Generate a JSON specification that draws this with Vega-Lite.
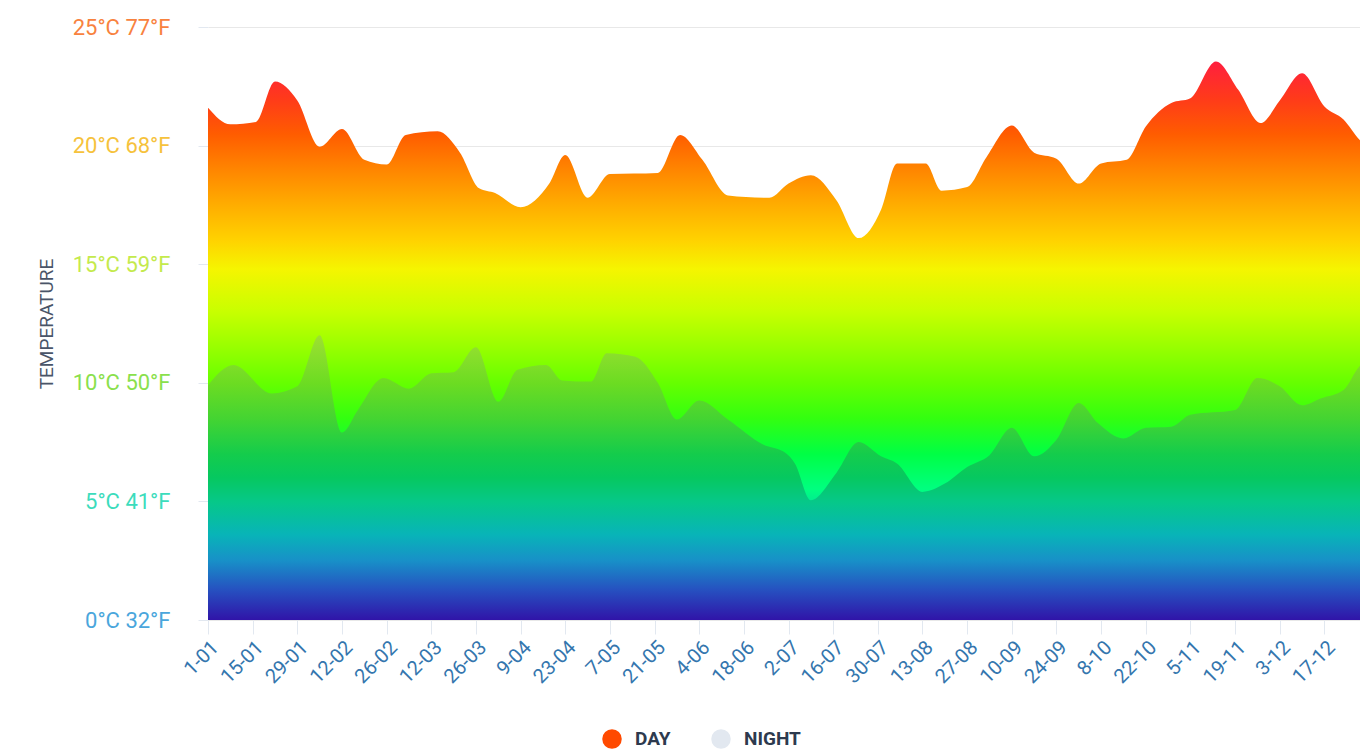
{
  "$schema": "https://vega.github.io/schema/vega-lite/v6.json",
  "width": 1152,
  "height": 593,
  "autosize": {"type": "none"},
  "padding": {"left": 208, "top": 27, "right": 0, "bottom": 131},
  "background": "white",
  "config": {"view": {"stroke": null}, "font": "Roboto"},
  "datasets": {
    "day": [
      {"day":0,"temp":21.6},{"day":7,"temp":20.9},{"day":15,"temp":21.0},{"day":21,"temp":22.7},{"day":28,"temp":21.9},
      {"day":35,"temp":19.95},{"day":42,"temp":20.7},{"day":49,"temp":19.4},{"day":56,"temp":19.2},{"day":62,"temp":20.45},
      {"day":72,"temp":20.6},{"day":79,"temp":19.7},{"day":85,"temp":18.2},{"day":90,"temp":18.0},{"day":98,"temp":17.4},
      {"day":107,"temp":18.4},{"day":112,"temp":19.6},{"day":119,"temp":17.8},{"day":126,"temp":18.8},{"day":141,"temp":18.85},
      {"day":148,"temp":20.45},{"day":155,"temp":19.4},{"day":163,"temp":17.9},{"day":176,"temp":17.8},{"day":182,"temp":18.4},
      {"day":189,"temp":18.75},{"day":197,"temp":17.7},{"day":204,"temp":16.1},{"day":211,"temp":17.3},{"day":216,"temp":19.25},
      {"day":225,"temp":19.25},{"day":230,"temp":18.1},{"day":238,"temp":18.25},{"day":244,"temp":19.5},{"day":252,"temp":20.85},
      {"day":259,"temp":19.7},{"day":266,"temp":19.45},{"day":273,"temp":18.4},{"day":280,"temp":19.25},{"day":288,"temp":19.4},
      {"day":294,"temp":20.8},{"day":302,"temp":21.8},{"day":308,"temp":22.0},{"day":316,"temp":23.55},{"day":323,"temp":22.35},
      {"day":330,"temp":20.95},{"day":336,"temp":21.9},{"day":343,"temp":23.05},{"day":350,"temp":21.65},{"day":356,"temp":21.1},
      {"day":361,"temp":20.25},{"day":364,"temp":19.9}
    ],
    "night": [
      {"day":0,"temp":9.9},{"day":8,"temp":10.75},{"day":20,"temp":9.55},{"day":28,"temp":9.85},{"day":35,"temp":12.0},
      {"day":42,"temp":7.9},{"day":47,"temp":8.85},{"day":55,"temp":10.2},{"day":63,"temp":9.75},{"day":70,"temp":10.4},
      {"day":77,"temp":10.45},{"day":84,"temp":11.5},{"day":91,"temp":9.2},{"day":97,"temp":10.55},{"day":106,"temp":10.75},
      {"day":111,"temp":10.1},{"day":120,"temp":10.05},{"day":125,"temp":11.25},{"day":134,"temp":11.1},{"day":141,"temp":10.0},
      {"day":147,"temp":8.45},{"day":154,"temp":9.25},{"day":163,"temp":8.45},{"day":174,"temp":7.4},{"day":181,"temp":7.05},
      {"day":184,"temp":6.6},{"day":189,"temp":5.05},{"day":197,"temp":6.2},{"day":204,"temp":7.5},{"day":211,"temp":6.9},
      {"day":216,"temp":6.6},{"day":224,"temp":5.4},{"day":231,"temp":5.75},{"day":238,"temp":6.45},{"day":245,"temp":6.95},
      {"day":252,"temp":8.1},{"day":259,"temp":6.9},{"day":266,"temp":7.6},{"day":273,"temp":9.15},{"day":279,"temp":8.3},
      {"day":287,"temp":7.65},{"day":294,"temp":8.1},{"day":302,"temp":8.15},{"day":308,"temp":8.65},{"day":322,"temp":8.85},
      {"day":329,"temp":10.2},{"day":336,"temp":9.85},{"day":343,"temp":9.05},{"day":349,"temp":9.35},{"day":356,"temp":9.7},
      {"day":361,"temp":10.7},{"day":364,"temp":11.0}
    ],
    "legend": [
      {"series":"DAY","day":0,"temp":0},
      {"series":"NIGHT","day":0,"temp":0}
    ]
  },
  "encoding": {
    "x": {
      "field": "day",
      "type": "quantitative",
      "scale": {"domain": [0, 361.16], "nice": false, "zero": false},
      "axis": {
        "values": [0,14,28,42,56,70,84,98,112,126,140,154,168,182,196,210,224,238,252,266,280,294,308,322,336,350,364],
        "labelExpr": "timeFormat(datetime(2019, 0, 1 + datum.value), '%-d-%m')",
        "labelAngle": -45,
        "labelFontSize": 20,
        "labelColor": "#3476ae",
        "labelPadding": 3,
        "labelOverlap": false,
        "labelBound": false,
        "labelFlush": false,
        "tickSize": 14,
        "tickColor": "#e2e8f0",
        "tickWidth": 1,
        "domain": false,
        "grid": false,
        "title": null
      }
    },
    "y": {
      "field": "temp",
      "type": "quantitative",
      "scale": {"domain": [0, 25], "nice": false},
      "axis": {
        "values": [0,5,10,15,20,25],
        "labelExpr": "datum.value + '°C ' + round(datum.value * 1.8 + 32) + '°F'",
        "labelFontSize": 22,
        "labelPadding": 28,
        "labelColor": {
          "condition": [
            {"test": "datum.value == 25", "value": "#f8823e"},
            {"test": "datum.value == 20", "value": "#f6c23c"},
            {"test": "datum.value == 15", "value": "#c4ea4c"},
            {"test": "datum.value == 10", "value": "#8ae04c"},
            {"test": "datum.value == 5", "value": "#3cdcbc"}
          ],
          "value": "#4aa6dc"
        },
        "tickSize": 10,
        "tickColor": "#e2e8f0",
        "grid": true,
        "gridColor": "#e8e8e8",
        "domain": false,
        "title": "TEMPERATURE",
        "titleFontSize": 19,
        "titleFontWeight": "normal",
        "titleColor": "#4a5568",
        "titlePadding": 16
      }
    }
  },
  "layer": [
    {
      "data": {"name": "legend"},
      "mark": {"type": "point", "filled": true, "opacity": 0},
      "encoding": {
        "color": {
          "field": "series",
          "type": "nominal",
          "scale": {"domain": ["DAY", "NIGHT"], "range": ["#ff4a00", "#e2e8f0"]},
          "legend": {
            "orient": "none",
            "legendX": 394,
            "legendY": 702,
            "direction": "horizontal",
            "title": null,
            "symbolType": "circle",
            "symbolSize": 380,
            "symbolOpacity": 1,
            "symbolStrokeWidth": 0,
            "labelFontSize": 19,
            "labelFontWeight": "bold",
            "labelColor": "#2d3a4e",
            "labelOffset": 13,
            "columnPadding": 40,
            "padding": 0
          }
        }
      }
    },
    {
      "data": {"name": "day"},
      "mark": {
        "type": "area",
        "interpolate": "monotone",
        "clip": true,
        "fill": {
          "gradient": "linear",
          "x1": 0, "y1": 0, "x2": 0, "y2": 1,
          "stops": [
            {"offset": 0, "color": "#ff1f3f"},
            {"offset": 0.066, "color": "#ff3a1a"},
            {"offset": 0.13, "color": "#ff5c00"},
            {"offset": 0.193, "color": "#ff8500"},
            {"offset": 0.257, "color": "#ffad00"},
            {"offset": 0.32, "color": "#ffd200"},
            {"offset": 0.372, "color": "#f5f500"},
            {"offset": 0.448, "color": "#c8ff00"},
            {"offset": 0.512, "color": "#98ff00"},
            {"offset": 0.575, "color": "#66ff00"},
            {"offset": 0.639, "color": "#33ff10"},
            {"offset": 0.703, "color": "#00ff45"},
            {"offset": 0.766, "color": "#00ff80"},
            {"offset": 0.83, "color": "#00c8b0"},
            {"offset": 1, "color": "#3010a8"}
          ]
        }
      }
    },
    {
      "data": {"name": "night"},
      "mark": {
        "type": "area",
        "interpolate": "monotone",
        "clip": true,
        "fill": {
          "gradient": "linear",
          "x1": 0, "y1": 0, "x2": 0, "y2": 1,
          "stops": [
            {"offset": 0, "color": "#9ee032"},
            {"offset": 0.168, "color": "#6cdc22"},
            {"offset": 0.293, "color": "#44d432"},
            {"offset": 0.418, "color": "#14cc4c"},
            {"offset": 0.5, "color": "#06c860"},
            {"offset": 0.584, "color": "#06c888"},
            {"offset": 0.7, "color": "#08b4b8"},
            {"offset": 0.792, "color": "#1890c8"},
            {"offset": 0.895, "color": "#2650c0"},
            {"offset": 1, "color": "#3014a8"}
          ]
        }
      }
    }
  ]
}
